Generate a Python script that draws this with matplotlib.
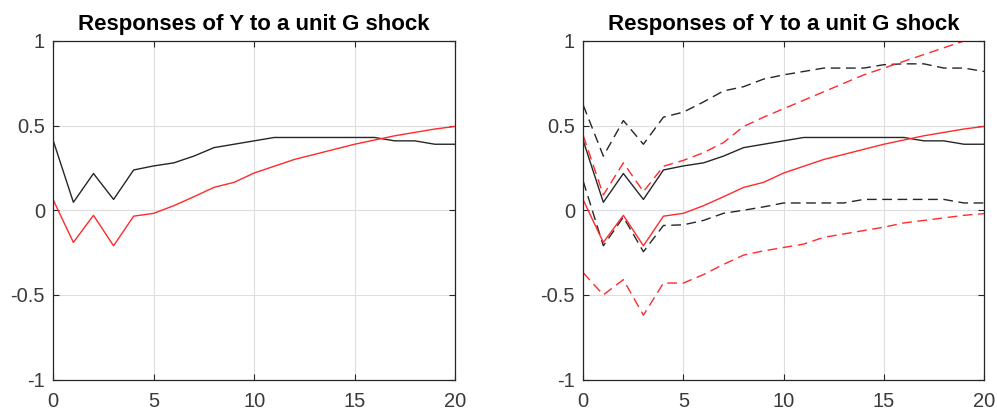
import matplotlib
matplotlib.use("Agg")
import matplotlib.pyplot as plt
import numpy as np

horizon = list(range(21))

y_point = [0.41, 0.047, 0.217, 0.064, 0.238, 0.262, 0.28, 0.32, 0.37, 0.39, 0.41,
           0.43, 0.43, 0.43, 0.43, 0.43, 0.43, 0.41, 0.41, 0.39, 0.39]
y_point_red = [0.06, -0.19, -0.03, -0.21, -0.035, -0.018, 0.027, 0.08, 0.135, 0.165, 0.22,
               0.26, 0.30, 0.33, 0.36, 0.39, 0.415, 0.44, 0.46, 0.48, 0.495]

black_upper = [0.62, 0.32, 0.53, 0.39, 0.55, 0.58, 0.64, 0.705, 0.73, 0.775, 0.80,
               0.82, 0.84, 0.84, 0.84, 0.86, 0.865, 0.865, 0.84, 0.84, 0.82]
black_lower = [0.17, -0.21, -0.04, -0.245, -0.09, -0.086, -0.06, -0.018, 0.0, 0.02, 0.043,
               0.043, 0.043, 0.043, 0.064, 0.064, 0.064, 0.064, 0.064, 0.043, 0.043]
red_upper = [0.44, 0.09, 0.28, 0.11, 0.26, 0.295, 0.34, 0.40, 0.495, 0.55, 0.60,
             0.65, 0.70, 0.75, 0.80, 0.84, 0.88, 0.92, 0.96, 1.0, 1.04]
red_lower = [-0.37, -0.50, -0.41, -0.62, -0.43, -0.43, -0.38, -0.32, -0.265, -0.24, -0.22,
             -0.20, -0.16, -0.14, -0.12, -0.10, -0.075, -0.06, -0.045, -0.03, -0.02]

title = "Responses of Y to a unit G shock"
xticks = [0, 5, 10, 15, 20]
yticks = [-1, -0.5, 0, 0.5, 1]
yticklabels = ["-1", "-0.5", "0", "0.5", "1"]

plt.rcParams['font.family'] = ['Liberation Sans', 'DejaVu Sans']

fig = plt.figure(figsize=(9.97, 4.12), dpi=100)
W, H = 997, 412
axes_px = [(53.3, 455), (583.3, 984)]
top_px, bot_px = 41, 379.5

BLACK = '#262626'
LABEL = '#3a3a3a'
RED = '#ff2a2a'

for i, (l, r) in enumerate(axes_px):
    ax = fig.add_axes([l / W, 1 - bot_px / H, (r - l) / W, (bot_px - top_px) / H])
    ax.set_xlim(0, 20)
    ax.set_ylim(-1, 1)
    ax.set_xticks(xticks)
    ax.set_yticks(yticks)
    ax.set_yticklabels(yticklabels)
    ax.grid(True, color='#dedede', linewidth=0.8)
    ax.set_axisbelow(True)
    ax.tick_params(direction='in', length=4, width=0.8, colors=BLACK,
                   labelcolor=LABEL, labelsize=14.5, top=True, right=True,
                   labeltop=False, labelright=False)
    ax.tick_params(axis='x', pad=9)
    ax.tick_params(axis='y', pad=6)
    for s in ax.spines.values():
        s.set_color(BLACK)
        s.set_linewidth(0.9)
    ax.set_title(title, fontsize=16, fontweight='bold', color='black', pad=8)
    if i == 1:
        dash = (0, (7, 4))
        ax.plot(horizon, black_upper, color=BLACK, lw=1.0, linestyle=dash)
        ax.plot(horizon, black_lower, color=BLACK, lw=1.0, linestyle=dash)
        ax.plot(horizon, red_upper, color=RED, lw=1.0, linestyle=dash)
        ax.plot(horizon, red_lower, color=RED, lw=1.0, linestyle=dash)
    ax.plot(horizon, y_point, color=BLACK, lw=1.0)
    ax.plot(horizon, y_point_red, color=RED, lw=1.0)

fig.savefig("out.png", dpi=100)
